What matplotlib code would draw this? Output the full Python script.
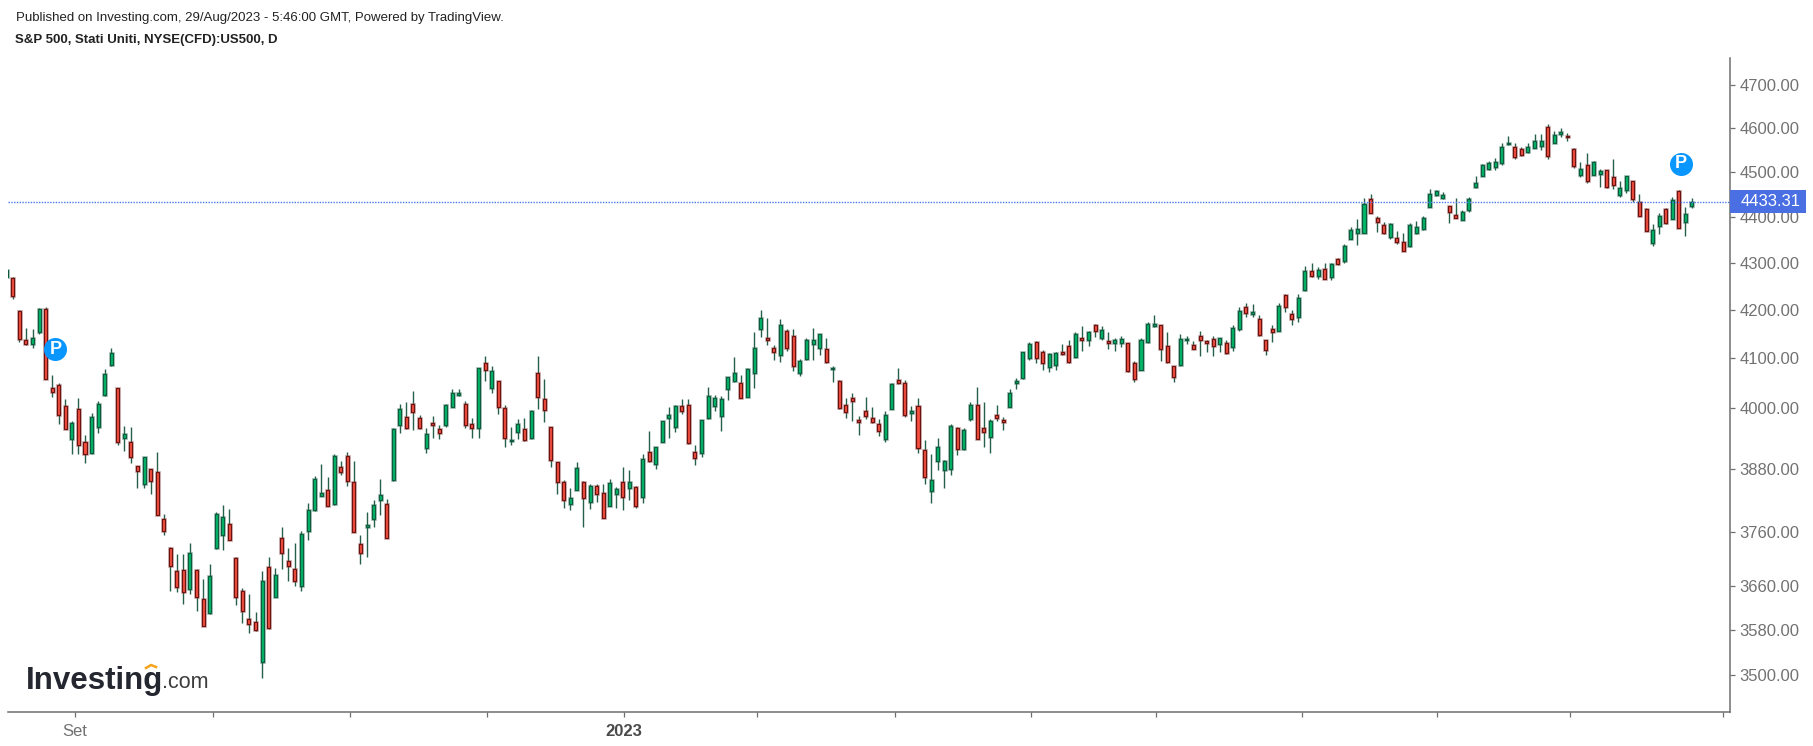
import numpy as np
import matplotlib
matplotlib.use("Agg")
import matplotlib.pyplot as plt
from matplotlib.lines import Line2D
from matplotlib.patches import Rectangle
from matplotlib.ticker import FixedLocator, FixedFormatter, NullLocator

opens = [4271,4269,4199,4138,4130,4154,4203,4039,4045,4003,3938,3997,3933,3910,3962,4025,4086,4039,3941,3933,
3885,3851,3879,3873,3784,3730,3687,3689,3654,3689,3636,3611,3729,3754,3775,3711,3650,3599,3594,3523,
3694,3640,3749,3705,3691,3659,3762,3800,3828,3839,3812,3884,3904,3855,3736,3768,3783,3820,3812,3858,
3966,3981,4008,3979,3920,3970,3957,3966,4002,4025,4008,3968,3960,4090,4040,4053,3999,3935,3951,3957,
3941,4071,4017,3961,3893,3855,3812,3840,3855,3817,3846,3833,3809,3832,3855,3843,3845,3826,3913,3889,
3933,3980,3962,4003,4005,3913,3910,3980,4004,3984,4037,4054,4049,4022,4070,4160,4141,4121,4108,4157,
4147,4070,4098,4130,4121,4119,4079,4054,4005,4020,3975,3994,3979,3967,3938,3998,4056,4050,3989,4003,
3916,3837,3895,3877,3880,3960,3918,3977,4005,3960,3942,3985,3975,4002,4049,4060,4100,4133,4113,4083,
4086,4113,4125,4102,4143,4138,4168,4141,4135,4132,4132,4131,4091,4077,4133,4166,4168,4125,4084,4086,
4138,4127,4146,4135,4140,4130,4131,4123,4160,4206,4192,4181,4137,4160,4157,4231,4193,4186,4242,4284,
4273,4288,4270,4309,4305,4353,4366,4366,4441,4399,4382,4356,4355,4345,4336,4366,4373,4423,4449,4443,
4424,4405,4394,4415,4466,4492,4506,4511,4520,4564,4556,4553,4545,4555,4559,4602,4566,4586,4581,4553,
4494,4515,4494,4496,4504,4488,4449,4459,4480,4434,4418,4344,4380,4418,4396,4458,4390,4425]
highs = [4290,4270,4200,4162,4160,4204,4206,4067,4049,4018,3973,4020,3946,3990,4014,4079,4122,4040,3964,3961,
3886,3903,3880,3912,3793,3731,3719,3719,3739,3690,3672,3700,3797,3810,3802,3712,3656,3645,3612,3686,
3713,3692,3768,3730,3739,3761,3814,3866,3890,3864,3908,3896,3913,3896,3753,3798,3819,3860,3821,3960,
4007,4012,4033,3985,3959,3983,3965,4008,4037,4037,4014,3979,4081,4104,4085,4054,4006,3961,3977,3979,
3996,4104,4058,3962,3894,3859,3842,3893,3856,3850,3850,3850,3860,3845,3883,3877,3846,3908,3953,3923,
3974,4001,4006,4018,4018,3926,3976,4042,4026,4023,4063,4103,4067,4081,4155,4200,4184,4128,4181,4161,
4161,4098,4142,4162,4151,4141,4085,4055,4020,4030,3983,4021,4001,3977,3994,4050,4081,4055,4003,4020,
3937,3908,3941,3897,3967,3961,3959,4012,4042,4012,3977,4006,3982,4037,4060,4114,4133,4136,4118,4112,
4114,4129,4138,4154,4166,4156,4172,4166,4154,4141,4146,4132,4095,4141,4175,4190,4169,4154,4085,4150,
4147,4135,4156,4138,4147,4143,4138,4169,4206,4216,4213,4190,4138,4169,4216,4235,4200,4235,4294,4300,
4292,4300,4300,4311,4341,4379,4396,4442,4452,4402,4389,4386,4369,4366,4386,4392,4402,4462,4459,4456,
4425,4442,4416,4445,4492,4518,4526,4531,4565,4581,4567,4557,4567,4586,4586,4609,4593,4600,4588,4554,
4522,4544,4524,4508,4505,4530,4479,4492,4481,4451,4420,4385,4408,4421,4445,4461,4422,4442]
lows = [4265,4223,4134,4128,4122,4151,4058,4022,3967,3957,3909,3909,3891,3909,3950,4024,4085,3926,3915,3892,
3842,3842,3831,3791,3754,3651,3648,3626,3645,3613,3586,3608,3728,3726,3744,3624,3592,3574,3578,3495,
3582,3639,3690,3668,3659,3651,3745,3799,3827,3808,3811,3867,3846,3759,3700,3712,3768,3791,3748,3857,
3950,3958,3956,3958,3911,3941,3938,3962,4001,4024,3959,3941,3941,4054,4030,3988,3922,3926,3938,3935,
3938,3997,3971,3883,3831,3805,3800,3839,3768,3802,3817,3785,3808,3805,3800,3819,3805,3814,3894,3880,
3932,3941,3951,3988,3929,3888,3902,3977,3994,3953,4016,4051,4019,4021,4039,4145,4128,4097,4092,4115,
4074,4064,4097,4097,4108,4091,4051,3998,3980,3974,3947,3977,3970,3945,3932,3997,4048,3982,3974,3911,
3851,3814,3877,3842,3868,3906,3917,3974,3938,3923,3911,3974,3956,4001,4037,4059,4096,4091,4077,4073,
4077,4107,4091,4101,4116,4126,4144,4138,4120,4116,4123,4073,4052,4076,4132,4165,4095,4091,4052,4085,
4129,4119,4104,4113,4104,4113,4110,4116,4157,4185,4185,4147,4107,4134,4156,4196,4170,4176,4241,4270,
4267,4266,4264,4295,4301,4352,4339,4365,4408,4368,4362,4353,4342,4326,4335,4362,4372,4422,4446,4439,
4388,4398,4393,4412,4465,4491,4504,4504,4517,4561,4530,4537,4544,4554,4551,4530,4565,4579,4571,4509,
4490,4476,4493,4466,4465,4463,4445,4454,4434,4402,4369,4337,4363,4385,4395,4376,4358,4419]
closes = [4286,4229,4139,4129,4143,4203,4058,4031,3986,3957,3970,3927,3909,3982,4008,4069,4112,3932,3949,3903,
3875,3902,3857,3792,3761,3696,3658,3649,3721,3640,3587,3677,3793,3787,3745,3640,3614,3590,3579,3669,
3583,3680,3721,3696,3668,3756,3800,3860,3833,3809,3904,3874,3857,3760,3720,3773,3810,3830,3749,3958,
3997,3959,3992,3959,3949,3966,3950,4006,4030,4030,3966,3959,4080,4077,4075,4001,3941,3937,3968,3936,
3994,4022,3995,3897,3854,3820,3824,3882,3823,3846,3831,3786,3853,3841,3826,3855,3809,3899,3895,3922,
3973,3985,4003,3993,3930,3901,3975,4023,4020,4017,4062,4071,4020,4078,4121,4183,4138,4113,4168,4121,
4084,4094,4138,4138,4150,4092,4081,3999,3992,4013,3971,3983,3971,3953,3985,4047,4049,3986,3994,3920,
3864,3859,3922,3896,3964,3918,3955,4005,3939,3951,3973,3980,3971,4030,4054,4113,4129,4100,4091,4109,
4112,4110,4092,4150,4138,4155,4157,4159,4132,4137,4140,4074,4059,4137,4171,4171,4120,4092,4062,4140,
4140,4120,4138,4132,4126,4141,4111,4162,4199,4195,4197,4148,4117,4155,4209,4207,4182,4225,4284,4273,
4285,4267,4297,4299,4337,4372,4374,4429,4409,4389,4366,4385,4346,4327,4383,4379,4399,4451,4458,4448,
4412,4399,4411,4441,4475,4515,4520,4522,4556,4567,4534,4538,4556,4570,4570,4537,4585,4592,4579,4513,
4506,4480,4522,4503,4466,4470,4465,4491,4440,4403,4370,4372,4402,4386,4438,4377,4407,4434]
last_price = 4433.31
price_ticks = [3500,3580,3660,3760,3880,4000,4100,4200,4300,4400,4500,4600,4700]
price_labels = ["3500.00","3580.00","3660.00","3760.00","3880.00","4000.00","4100.00","4200.00","4300.00","4400.00","4500.00","4600.00","4700.00"]
month_ticks = [10.5,31.5,52.4,73.3,94.2,114.4,135.5,156.2,175.3,197.5,218.2,238.4,261.8]
month_labels = ["Set","","","","2023","","","","","","","",""]
pub_idx = [7.5,255.3]
pub_price = [4119,4519]

W,H = 1813,746
fig = plt.figure(figsize=(W/100,H/100),dpi=100,facecolor="white")
plt.rcParams['font.family'] = ['Liberation Sans','DejaVu Sans']
L,R,T,B = 8,1730,58,712
ax = fig.add_axes([L/W,1-B/H,(R-L)/W,(B-T)/H])
ax.set_yscale("log")
ax.set_ylim(3436,4764)
ax.set_xlim(0.26,262.8)

o,h,l,c = map(np.array,(opens,highs,lows,closes))
x = np.arange(len(o))
up = c>=o
wick = "#27604a"
ax.vlines(x,l,h,color=wick,lw=1.0,zorder=2)
top = np.maximum(o,c); bot = np.minimum(o,c)
for mask,fill,edge,halo in ((up,"#00b868","#0f5a3c",(0.12,0.40,0.30,0.4)),(~up,"#f5503f","#6a1212",(0.55,0.22,0.22,0.4))):
    ax.bar(x[mask],(top-bot)[mask],bottom=bot[mask],width=0.46,color=fill,edgecolor=halo,linewidth=2.0,zorder=3)
    ax.bar(x[mask],(top-bot)[mask],bottom=bot[mask],width=0.46,color=fill,edgecolor=edge,linewidth=0.85,zorder=4)

ax.axhline(last_price,color="#4a78ee",lw=1.0,ls=(0,(1,1)),zorder=5)

ax.scatter(pub_idx,pub_price,s=275,color="#0a96ff",zorder=6,linewidths=0)
for xi,pi in zip(pub_idx,pub_price):
    ax.text(xi,pi,"P",color="white",fontsize=13,fontweight="bold",ha="center",va="center",zorder=7)

for s in ("top","left"):
    ax.spines[s].set_visible(False)
for s in ("right","bottom"):
    ax.spines[s].set_color("#6f6f6f"); ax.spines[s].set_linewidth(1.1)

ax.yaxis.tick_right()
ax.yaxis.set_major_locator(FixedLocator(price_ticks))
ax.yaxis.set_major_formatter(FixedFormatter(price_labels))
ax.yaxis.set_minor_locator(NullLocator())
ax.tick_params(axis="y",which="major",length=3.5,width=0.9,color="#6f6f6f",labelcolor="#727272",labelsize=12,pad=3.5)
ax.xaxis.set_major_locator(FixedLocator(month_ticks))
ax.xaxis.set_major_formatter(FixedFormatter(month_labels))
ax.tick_params(axis="x",which="major",length=3.5,width=0.9,color="#6f6f6f",labelcolor="#727272",labelsize=12,pad=5.5)
for t,lab in zip(ax.get_xticklabels(),month_labels):
    if lab=="2023":
        t.set_fontweight("bold"); t.set_color("#4a4a4a")

# last-price badge
fig.add_artist(Rectangle((1730/W,1-213/H),76/W,23/H,transform=fig.transFigure,facecolor="#4a6fe3",edgecolor="none",zorder=8))
fig.text(1741/W,1-201.5/H,f"{last_price:.2f}",color="white",fontsize=12,ha="left",va="center",zorder=9)

fig.text(16/W,1-18/H,"Published on Investing.com, 29/Aug/2023 - 5:46:00 GMT, Powered by TradingView.",color="#222222",fontsize=9.5,ha="left",va="center")
fig.text(15/W,1-40/H,"S&P 500, Stati Uniti, NYSE(CFD):US500, D",color="#222222",fontsize=9.5,fontweight="bold",ha="left",va="center")

# watermark
fig.text(26/W,1-680.5/H,"Investing",color="#24272f",fontsize=22.5,fontweight="bold",ha="left",va="center")
fig.text(162/W,1-682/H,".com",color="#3d3d3d",fontsize=15.5,ha="left",va="center")
fig.add_artist(Line2D([146/W,151/W,156/W],[1-668/H,1-665/H,1-667/H],color="#f7a21b",lw=1.8,transform=fig.transFigure))

fig.savefig("out.png",dpi=100,facecolor="white")
